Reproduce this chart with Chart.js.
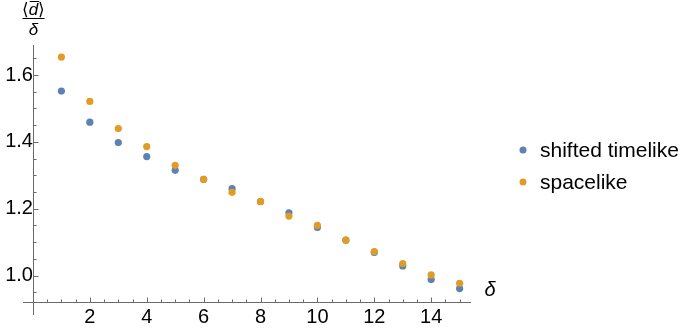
<!DOCTYPE html>
<html>
<head>
<meta charset="utf-8">
<script src="https://cdn.jsdelivr.net/npm/chart.js@4/dist/chart.umd.min.js"></script>
<style>
  html, body { margin: 0; padding: 0; background: #fff; }
  #wrap { width: 685px; height: 332px; position: relative; }
</style>
</head>
<body>
<div id="wrap"><canvas id="c" width="685" height="332"></canvas></div>
<script>
// ---- data ----
const deltas = [1, 2, 3, 4, 5, 6, 7, 8, 9, 10, 11, 12, 13, 14, 15];
const shiftedTimelike = [1.552, 1.459, 1.398, 1.356, 1.315, 1.288, 1.260, 1.221, 1.188, 1.144, 1.106, 1.069, 1.029, 0.988, 0.961];
const spacelike = [1.654, 1.521, 1.440, 1.386, 1.330, 1.288, 1.249, 1.222, 1.178, 1.150, 1.106, 1.072, 1.036, 1.002, 0.977];
const seriesNames = ['shifted timelike', 'spacelike'];
const xTickValues = [2, 4, 6, 8, 10, 12, 14];
const yTickValues = [1.0, 1.2, 1.4, 1.6];

const BLUE = '#5E81B5';
const ORANGE = '#E19C24';
const AXIS = '#6b6b6b';
const FONT = "'Liberation Sans', Arial, sans-serif";

const X_AXIS_AT = 0.921;
const Y_AXIS_AT = 0;

const toPts = (ys) => deltas.map((d, i) => ({ x: d, y: ys[i] }));

const axesPlugin = {
  id: 'mathematicaAxes',
  afterDraw(chart) {
    const ctx = chart.ctx;
    const xs = chart.scales.x, ys = chart.scales.y;
    const area = chart.chartArea;
    const y0 = Math.round(ys.getPixelForValue(X_AXIS_AT)) + 0.5;
    const x0 = Math.round(xs.getPixelForValue(Y_AXIS_AT)) + 0.5;
    ctx.save();
    ctx.strokeStyle = AXIS;
    ctx.lineWidth = 1;
    ctx.beginPath();
    ctx.moveTo(area.left, y0); ctx.lineTo(area.right, y0);
    ctx.moveTo(x0, area.top); ctx.lineTo(x0, area.bottom);
    // x ticks
    for (let k = 1; k <= 30; k++) {
      const v = k * 0.5;
      const px = Math.round(xs.getPixelForValue(v)) + 0.5;
      const major = xTickValues.includes(v);
      ctx.moveTo(px, y0); ctx.lineTo(px, y0 - (major ? 5 : 3));
    }
    // y ticks
    for (let k = 19; k <= 33; k++) {
      const v = k * 0.05;
      const py = Math.round(ys.getPixelForValue(v)) + 0.5;
      const major = yTickValues.some(t => Math.abs(t - v) < 1e-6);
      ctx.moveTo(x0, py); ctx.lineTo(x0 + (major ? 5 : 3), py);
    }
    ctx.stroke();

    // axis labels
    ctx.fillStyle = '#000';
    ctx.textAlign = 'center';
    ctx.textBaseline = 'alphabetic';
    ctx.font = "italic 20px " + FONT;
    ctx.fillText('δ', area.right + 19, y0 - 7);

    // y label: <d-bar> / delta
    const cx = x0;
    ctx.font = "17px " + FONT;
    const lw = ctx.measureText('⟨').width;
    ctx.font = "italic 17px " + FONT;
    const dw = ctx.measureText('d').width;
    const total = lw * 2 + dw;
    let sx = cx - total / 2;
    ctx.textAlign = 'left';
    ctx.font = "17px " + FONT;
    ctx.fillText('⟨', sx, 15);
    ctx.font = "italic 17px " + FONT;
    ctx.fillText('d', sx + lw, 15);
    ctx.font = "17px " + FONT;
    ctx.fillText('⟩', sx + lw + dw, 15);
    ctx.beginPath();
    ctx.strokeStyle = '#000';
    ctx.moveTo(sx + lw + 1, 1.5); ctx.lineTo(sx + lw + dw + 1, 1.5);
    ctx.moveTo(cx - 11, 18.5); ctx.lineTo(cx + 11, 18.5);
    ctx.stroke();
    ctx.textAlign = 'center';
    ctx.font = "italic 17px " + FONT;
    ctx.fillText('δ', cx, 35);

    // legend
    const items = [
      { name: seriesNames[0], color: BLUE, y: 150 },
      { name: seriesNames[1], color: ORANGE, y: 182 }
    ];
    ctx.font = "21px " + FONT;
    ctx.textAlign = 'left';
    ctx.textBaseline = 'middle';
    items.forEach(it => {
      ctx.beginPath();
      ctx.fillStyle = it.color;
      ctx.arc(523, it.y, 3.5, 0, Math.PI * 2);
      ctx.fill();
      ctx.fillStyle = '#000';
      ctx.fillText(it.name, 540, it.y + 1);
    });
    ctx.restore();
  }
};

new Chart(document.getElementById('c'), {
  type: 'scatter',
  data: {
    datasets: [
      { label: seriesNames[0], data: toPts(shiftedTimelike), backgroundColor: BLUE, borderColor: BLUE, pointRadius: 3.6, pointBorderWidth: 0, order: 2 },
      { label: seriesNames[1], data: toPts(spacelike), backgroundColor: ORANGE, borderColor: ORANGE, pointRadius: 3.6, pointBorderWidth: 0, order: 1 }
    ]
  },
  options: {
    responsive: false,
    animation: false,
    layout: { padding: { left: 23, right: 214, top: 45, bottom: 12 } },
    plugins: { legend: { display: false }, tooltip: { enabled: false } },
    scales: {
      x: {
        type: 'linear',
        position: { y: X_AXIS_AT },
        min: -0.35, max: 15.4,
        grid: { display: false, drawTicks: false },
        border: { display: false },
        afterBuildTicks: (s) => { s.ticks = xTickValues.map(v => ({ value: v })); },
        ticks: {
          autoSkip: false, maxRotation: 0, padding: 4,
          color: '#000', font: { family: FONT, size: 20 },
          callback: (v) => String(v)
        }
      },
      y: {
        type: 'linear',
        position: { x: Y_AXIS_AT },
        min: 0.882, max: 1.69,
        grid: { display: false, drawTicks: false },
        border: { display: false },
        afterBuildTicks: (s) => { s.ticks = yTickValues.map(v => ({ value: v })); },
        ticks: {
          autoSkip: false, padding: 5,
          color: '#000', font: { family: FONT, size: 20 },
          callback: (v) => Number(v).toFixed(1)
        }
      }
    }
  },
  plugins: [axesPlugin]
});
</script>
</body>
</html>
